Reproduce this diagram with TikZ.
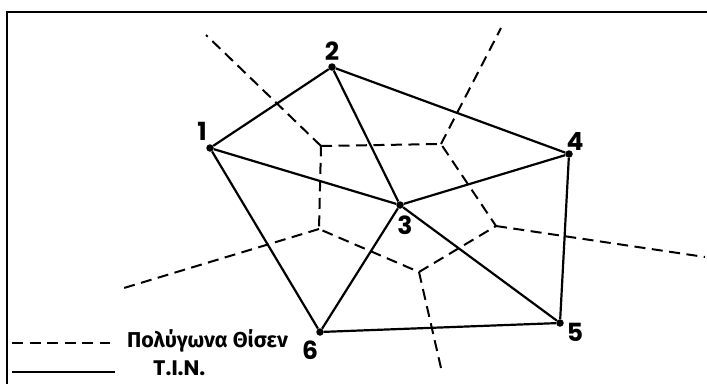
\documentclass[tikz,border=0pt]{standalone}
\usepackage{fontspec}
\setmainfont{Poppins}
\newfontfamily\greekfont{Fira Sans}
\usetikzlibrary{positioning}

\begin{document}
\begin{tikzpicture}[x=1pt,y=-1pt,
    frame/.style={line width=2.4pt,line cap=rect},
    tin/.style={line width=2.2pt,line join=round},
    vor/.style={line width=2pt,dash pattern=on 11pt off 6.5pt},
    pt/.style={circle,fill=black,inner sep=0pt,minimum size=7.5pt},
    num/.style={font=\fontsize{25}{25}\selectfont\bfseries,inner sep=0pt},
    leg/.style={font=\fontsize{21}{21}\selectfont\bfseries,inner sep=0pt,anchor=base west}]
  \useasboundingbox (0,0) rectangle (707,383);
  % frame (only top and left edge visible)
  \draw[frame] (7,384) -- (7,12) -- (708,12);

  % sample points
  \node[pt] (p1) at (210,148) {};
  \node[pt] (p2) at (332,67) {};
  \node[pt] (p3) at (400,205) {};
  \node[pt] (p4) at (569,154) {};
  \node[pt] (p5) at (560,323) {};
  \node[pt] (p6) at (320,332) {};
  \node[num] (n1) at (202,131) {1};
  \node[num] (n2) at (332,51) {2};
  \node[num] (n3) at (405,225) {3};
  \node[num] (n4) at (575,141) {4};
  \node[num] (n5) at (575,332) {5};
  \node[num] (n6) at (310,350) {6};

  % Thiessen polygon vertices and ray ends
  \coordinate (va) at (321,146);
  \coordinate (vb) at (441,144);
  \coordinate (vc) at (496,226);
  \coordinate (vd) at (419,272);
  \coordinate (ve) at (319,229);
  \coordinate (ra) at (206,35);
  \coordinate (rb) at (501,28);
  \coordinate (rc) at (705,257);
  \coordinate (rd) at (441,368);
  \coordinate (re) at (124,288);

  % T.I.N.
  \draw[tin] (p1) -- (p2) -- (p4) -- (p5) -- (p6) -- (p1);
  \draw[tin] (p1) -- (p3) (p2) -- (p3) (p4) -- (p3) (p5) -- (p3) (p6) -- (p3);

  % Thiessen polygons
  \draw[vor] (va) -- (vb) -- (vc) -- (vd) -- (ve) -- cycle;
  \draw[vor] (va) -- (ra);
  \draw[vor] (vb) -- (rb);
  \draw[vor] (vc) -- (rc);
  \draw[vor] (vd) -- (rd);
  \draw[vor] (ve) -- (re);

  % legend
  \coordinate (l1a) at (12,343);
  \coordinate (l1b) at (110,343);
  \coordinate (l2a) at (12,372);
  \coordinate (l2b) at (115,372);
  \draw[vor] (l1a) -- (l1b);
  \draw[tin] (l2a) -- (l2b);
  \node[leg,font=\fontsize{21.5}{21.5}\selectfont\greekfont\bfseries] (lvor) at (127,347) {Πολύγωνα Θίσεν};
  \node[leg] (ltin) at (153,375) {T.I.N.};
\end{tikzpicture}
\end{document}
